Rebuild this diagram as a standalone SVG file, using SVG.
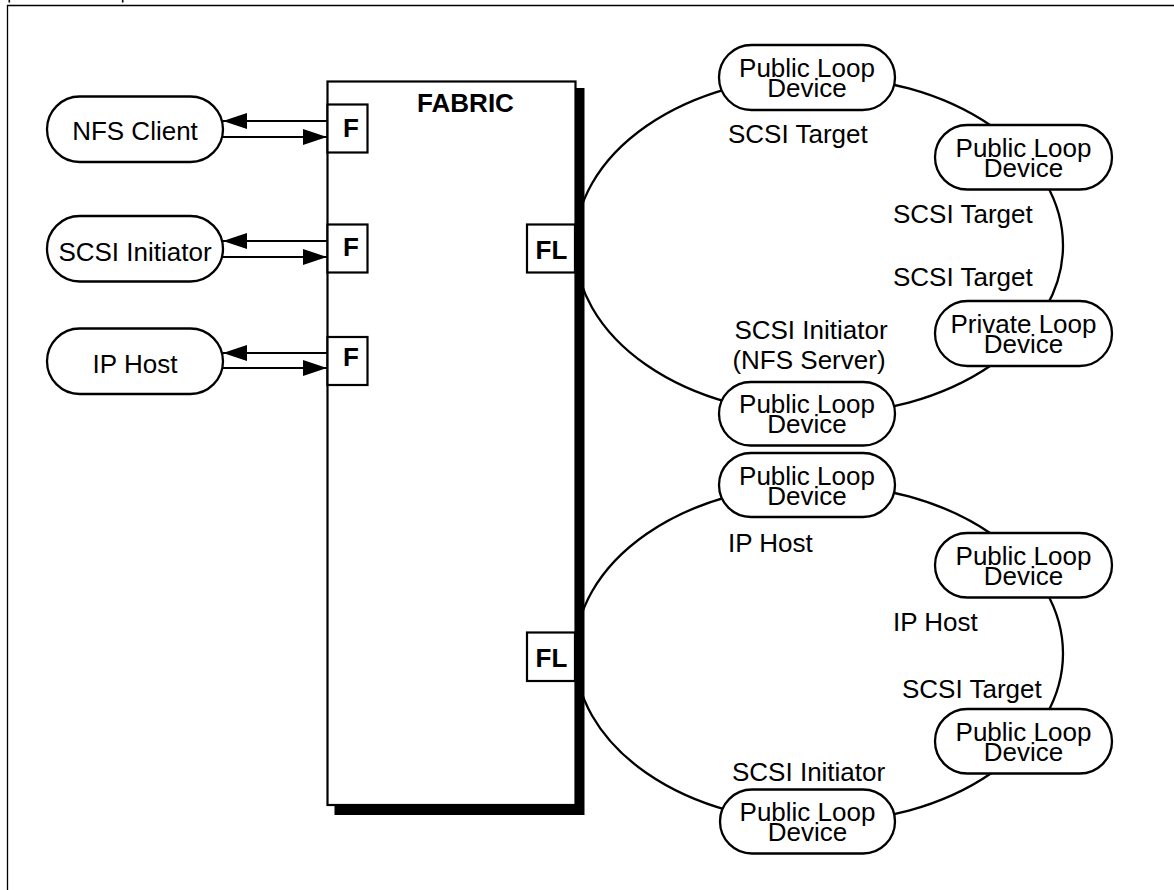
<svg xmlns="http://www.w3.org/2000/svg" width="1174" height="890" viewBox="0 0 1174 890">
<defs>
<style>
.pill{fill:#fff;stroke:#000;stroke-width:2.3}
.box{fill:#fff;stroke:#000;stroke-width:2.2}
.t{font-family:"Liberation Sans",Arial,sans-serif;font-size:26px;fill:#000}
.b{font-family:"Liberation Sans",Arial,sans-serif;font-size:26px;font-weight:bold;fill:#000}
.c{text-anchor:middle}
.ln{stroke:#000;stroke-width:2.3;fill:none}
.ar{stroke:#000;stroke-width:2.2;fill:none;marker-end:url(#ah)}
</style>
<marker id="ah" markerUnits="userSpaceOnUse" markerWidth="24" markerHeight="16" refX="24" refY="8" orient="auto" viewBox="0 0 24 16">
<path d="M0,0 L24,8 L0,16 Z" fill="#000"/>
</marker>
</defs>
<rect width="1174" height="890" fill="#fff"/>
<g id="frame">
<path d="M7.5,890 V5.5 H1174" fill="none" stroke="#000" stroke-width="1.3"/>
<rect x="8.5" y="0" width="1.6" height="2.5" fill="#000"/>
<rect x="121.9" y="0" width="1.6" height="2.5" fill="#000"/>
</g>
<g id="connectors">
<ellipse class="ln" cx="819" cy="245.5" rx="244" ry="169"/>
<ellipse class="ln" cx="819" cy="653.5" rx="244" ry="169"/>
<line class="ar" x1="327" y1="121" x2="223" y2="121"/>
<line class="ar" x1="223" y1="137" x2="327" y2="137"/>
<line class="ar" x1="327" y1="241" x2="223" y2="241"/>
<line class="ar" x1="223" y1="257" x2="327" y2="257"/>
<line class="ar" x1="327" y1="353" x2="223" y2="353"/>
<line class="ar" x1="223" y1="368" x2="327" y2="368"/>
</g>
<g id="fabric">
<rect x="334.5" y="88" width="250" height="727" fill="#000"/>
<rect class="box" x="327.5" y="81.5" width="248" height="723.5"/>
<text class="b c" x="465.5" y="112">FABRIC</text>
</g>
<g id="port-f1"><rect class="box" x="327.5" y="104.5" width="40" height="48"/><text class="b c" x="351" y="137">F</text></g>
<g id="port-f2"><rect class="box" x="327.5" y="224.5" width="40" height="48"/><text class="b c" x="351" y="256">F</text></g>
<g id="port-f3"><rect class="box" x="327.5" y="337" width="40" height="48"/><text class="b c" x="351" y="366">F</text></g>
<g id="port-fl1"><rect class="box" x="527" y="224.5" width="48" height="48"/><text class="b c" x="551.5" y="258.5">FL</text></g>
<g id="port-fl2"><rect class="box" x="527" y="632.5" width="48" height="48.5"/><text class="b c" x="551.5" y="667">FL</text></g>
<g id="nfs-client"><rect class="pill" x="47" y="96.5" width="176" height="65.5" rx="32.7"/><text class="t c" x="135" y="140">NFS Client</text></g>
<g id="scsi-initiator"><rect class="pill" x="47" y="216" width="176" height="65.5" rx="32.7"/><text class="t c" x="135" y="261">SCSI Initiator</text></g>
<g id="ip-host"><rect class="pill" x="47" y="328.5" width="176" height="65.5" rx="32.7"/><text class="t c" x="135" y="373">IP Host</text></g>
<g id="loop1-dev1"><rect class="pill" x="719" y="45" width="176" height="65" rx="32.5"/><text class="t c" x="807" y="77">Public Loop</text><text class="t c" x="807" y="97">Device</text></g>
<g id="loop1-dev2"><rect class="pill" x="935" y="125" width="177" height="64.5" rx="32.2"/><text class="t c" x="1023.5" y="157">Public Loop</text><text class="t c" x="1023.5" y="177">Device</text></g>
<g id="loop1-dev3"><rect class="pill" x="935" y="301" width="177" height="65" rx="32.5"/><text class="t c" x="1023.5" y="333">Private Loop</text><text class="t c" x="1023.5" y="353">Device</text></g>
<g id="loop1-dev4"><rect class="pill" x="719" y="382" width="176" height="63.5" rx="31.7"/><text class="t c" x="807" y="413">Public Loop</text><text class="t c" x="807" y="433">Device</text></g>
<g id="loop2-dev1"><rect class="pill" x="719" y="453" width="176" height="64" rx="32"/><text class="t c" x="807" y="485">Public Loop</text><text class="t c" x="807" y="505">Device</text></g>
<g id="loop2-dev2"><rect class="pill" x="935" y="533" width="177" height="64.5" rx="32.2"/><text class="t c" x="1023.5" y="565">Public Loop</text><text class="t c" x="1023.5" y="585">Device</text></g>
<g id="loop2-dev3"><rect class="pill" x="935" y="709" width="177" height="64.5" rx="32.2"/><text class="t c" x="1023.5" y="741">Public Loop</text><text class="t c" x="1023.5" y="761">Device</text></g>
<g id="loop2-dev4"><rect class="pill" x="720" y="789.5" width="175" height="64" rx="32"/><text class="t c" x="807.5" y="821">Public Loop</text><text class="t c" x="807.5" y="841">Device</text></g>
<g id="labels">
<text class="t" x="728" y="143">SCSI Target</text>
<text class="t" x="893" y="223">SCSI Target</text>
<text class="t" x="893" y="286">SCSI Target</text>
<text class="t c" x="811" y="339">SCSI Initiator</text>
<text class="t c" x="809" y="369">(NFS Server)</text>
<text class="t" x="728" y="552">IP Host</text>
<text class="t" x="893" y="631">IP Host</text>
<text class="t" x="902" y="698">SCSI Target</text>
<text class="t" x="732" y="781">SCSI Initiator</text>
</g>
</svg>
